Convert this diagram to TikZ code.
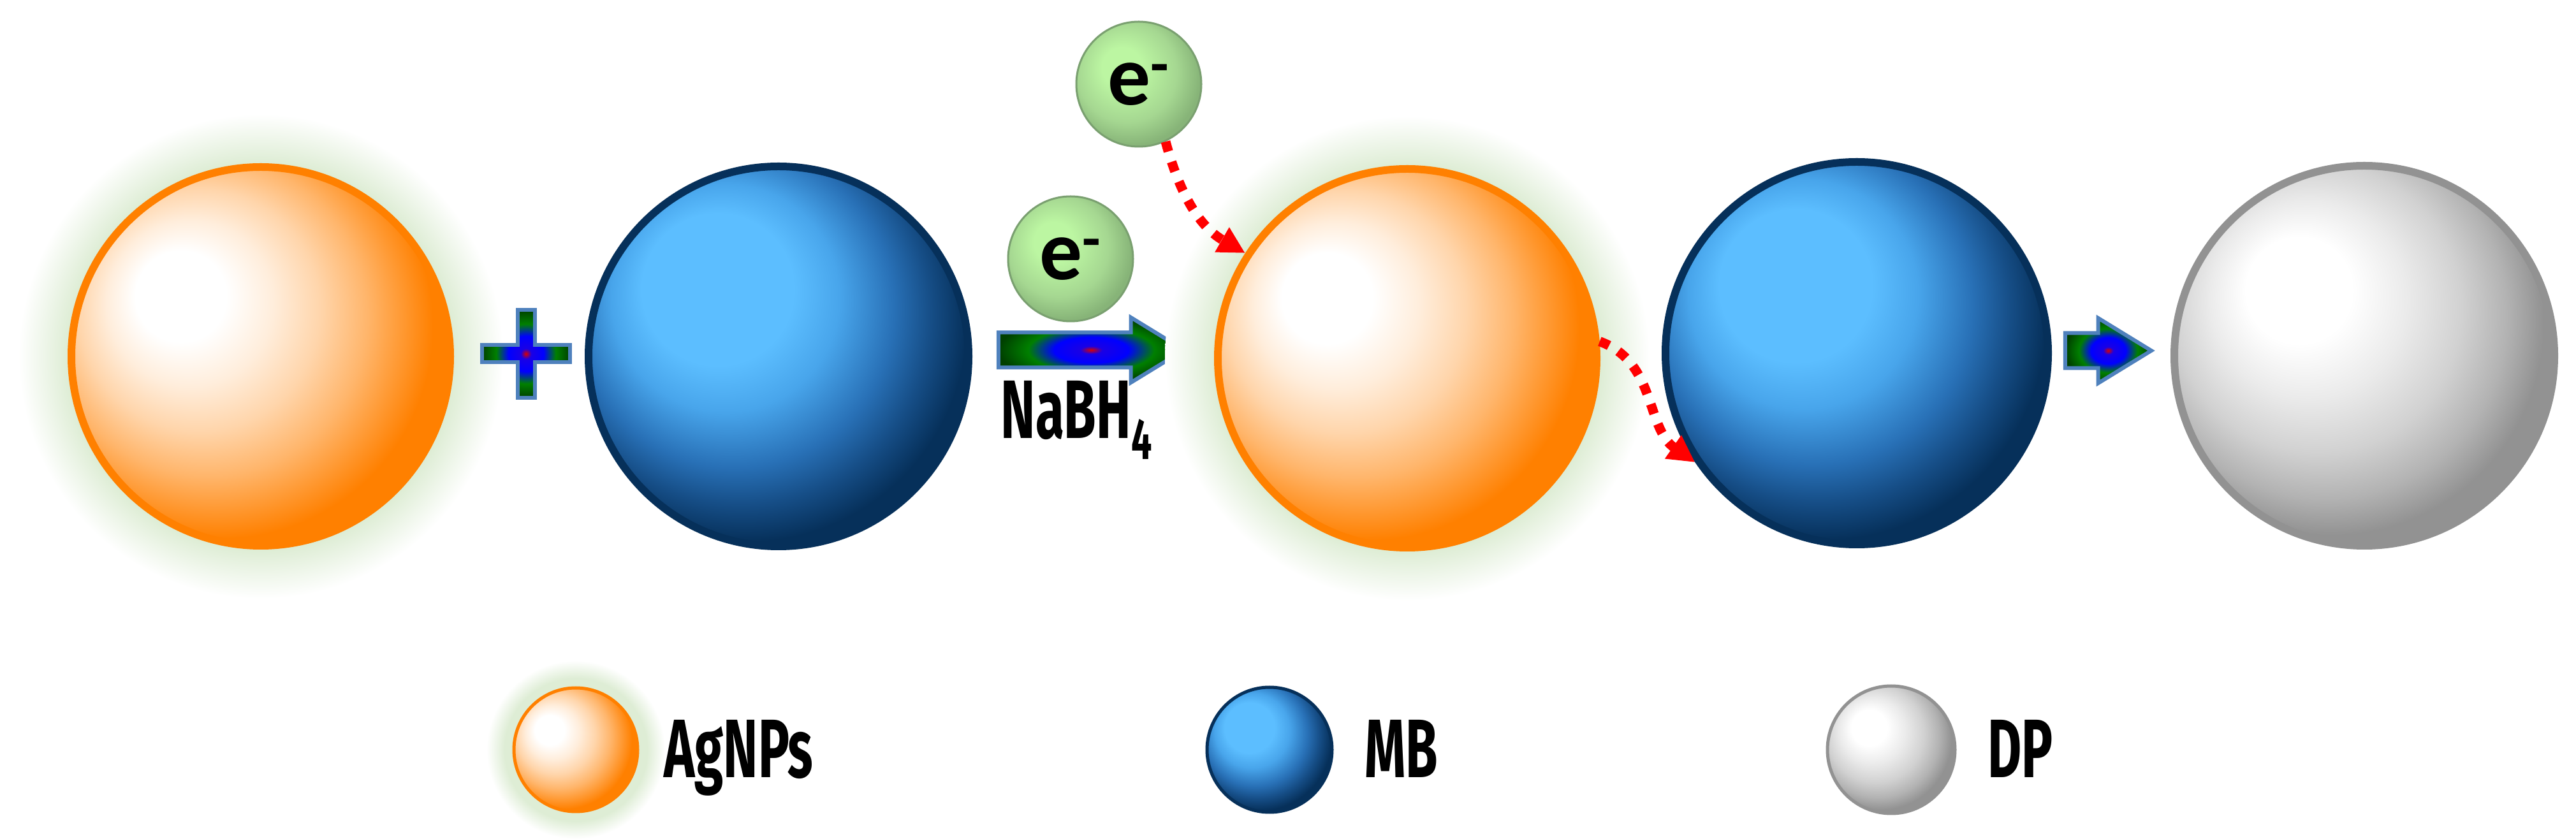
\documentclass[tikz,border=0pt]{standalone}
\usepackage{fontspec}
\usepackage{tikz}
\usetikzlibrary{arrows.meta,positioning,shapes.arrows}
\newfontfamily\labelfont[FakeStretch=0.63]{Fira Sans}
\newfontfamily\efont{Carlito}
\definecolor{agorange}{RGB}{255,128,0}
\definecolor{mblight}{RGB}{92,190,255}
\definecolor{mbdark}{RGB}{6,48,90}
\definecolor{dpgrey}{RGB}{146,146,146}
\definecolor{elight}{RGB}{188,246,162}
\definecolor{edark}{RGB}{122,160,112}
\definecolor{glowgreen}{RGB}{222,237,213}
\definecolor{arrowblue}{RGB}{79,129,189}
\definecolor{dotred}{RGB}{255,0,0}
\pgfdeclareradialshading{agshade}{\pgfpoint{-12bp}{9bp}}{%
  color(0bp)=(white); color(6bp)=(white); color(11bp)=(agorange!14);
  color(16bp)=(agorange!33); color(21bp)=(agorange!58); color(25bp)=(agorange!82);
  color(28bp)=(agorange); color(50bp)=(agorange)}
\pgfdeclareradialshading{mbshade}{\pgfpoint{-10bp}{11bp}}{%
  color(0bp)=(mblight); color(10bp)=(mblight); color(15bp)=(rgb,255:red,72;green,165;blue,235);
  color(21bp)=(rgb,255:red,40;green,112;blue,182); color(25bp)=(rgb,255:red,22;green,78;blue,135);
  color(29bp)=(mbdark); color(50bp)=(mbdark)}
\pgfdeclareradialshading{dpshade}{\pgfpoint{-10bp}{10bp}}{%
  color(0bp)=(white); color(7bp)=(white); color(13bp)=(white!92!black);
  color(19bp)=(white!82!black); color(24bp)=(white!70!black); color(28bp)=(dpgrey); color(50bp)=(dpgrey)}
\pgfdeclareradialshading{eshade}{\pgfpoint{-8bp}{8bp}}{%
  color(0bp)=(elight); color(8bp)=(elight); color(20bp)=(rgb,255:red,165;green,215;blue,145);
  color(28bp)=(rgb,255:red,135;green,180;blue,120); color(50bp)=(edark)}
\pgfdeclareradialshading{glowshade}{\pgfpoint{0bp}{0bp}}{%
  color(0bp)=(glowgreen); color(20bp)=(glowgreen); color(25bp)=(white); color(50bp)=(white)}
\pgfdeclareradialshading{rgbshade}{\pgfpoint{0bp}{0bp}}{%
  color(0bp)=(red!85!black); color(3bp)=(blue!90!red); color(10bp)=(blue);
  color(17bp)=(green!50!black); color(25bp)=(green!25!black); color(50bp)=(green!25!black)}
\tikzstyle{halo}=[
  circle,
  inner sep=0pt,
  shading=glowshade,
]
\tikzstyle{agball}=[
  circle,
  draw=agorange,
  inner sep=0pt,
  line width=.12cm,
  shading=agshade,
]
\tikzstyle{mbball}=[
  circle,
  draw=mbdark,
  inner sep=0pt,
  line width=.12cm,
  shading=mbshade,
]
\tikzstyle{dpball}=[
  circle,
  draw=dpgrey,
  inner sep=0pt,
  line width=.12cm,
  shading=dpshade,
]
\tikzstyle{eball}=[
  circle,
  draw=edark,
  font={\efont\bfseries\fontsize{38pt}{40pt}\selectfont},
  inner sep=0pt,
  line width=.03cm,
  minimum size=1.96cm,
  shading=eshade,
]
\tikzstyle{blockarrow}=[
  single arrow,
  draw=arrowblue,
  inner xsep=0pt,
  inner ysep=.245cm,
  line width=.06cm,
  shading=rgbshade,
  single arrow head extend=.235cm,
  single arrow tip angle=63,
]
\tikzstyle{plussign}=[
  draw=arrowblue,
  line width=.06cm,
  shading=rgbshade,
]
\tikzstyle{legendtext}=[
  font={\labelfont\bfseries\fontsize{37pt}{40pt}\selectfont},
  inner sep=0pt,
  text depth=0pt,
  text height=.87cm,
]
\tikzstyle{edash}=[
  draw=dotred,
  line width=.15cm,
  dash pattern=on .16cm off .17cm,
  -{Triangle[length=.42cm,width=.42cm]},
]

\begin{document}
\begin{tikzpicture}
    \useasboundingbox [fill=white] (0,0) rectangle (40.4,13.16);
    %% reactants
    \node (ag1glow) [halo, minimum size=7.6cm] at (4.09,7.57) {};
    \node (ag1) [agball, minimum size=5.94cm] at (ag1glow) {};
    \coordinate (plus) at (8.25,7.61);
    \draw [plussign] (plus) ++(-.69,.135) -- ++(.555,0) -- ++(0,.555)
                     -- ++(.27,0) -- ++(0,-.555) -- ++(.555,0) -- ++(0,-.27)
                     -- ++(-.555,0) -- ++(0,-.555) -- ++(-.27,0) -- ++(0,.555)
                     -- ++(-.555,0) -- cycle;
    \node (mb1) [mbball, minimum size=5.96cm] at (12.21,7.57) {};
    %%
    \node (step1) [blockarrow, minimum height=2.91cm] at (16.89,7.67) {};
    \node (nabh4) [legendtext, below=.2cm of step1] {NaBH\textsubscript{4}};
    \node (eLow) [eball] at (16.79,9.10) {e\textsuperscript{-}};
    \node (eTop) [eball] at (17.86,11.84) {e\textsuperscript{-}};
    %% products
    \node (ag2glow) [halo, minimum size=7.6cm] at (22.07,7.54) {};
    \node (ag2) [agball, minimum size=5.94cm] at (ag2glow) {};
    \node (mb2) [mbball, minimum size=6cm] at (29.12,7.62) {};
    \node (step2) [blockarrow, minimum height=1.35cm] at (32.84,7.66) {};
    \node (dp1) [dpball, minimum size=5.96cm] at (37.08,7.58) {};
    %%
    \draw [edash] (eTop.-65) to [out=-75, in=150] (ag2.147);
    \draw [edash] (ag2.5) to [out=-20, in=145] (mb2.214);
    %% legend
    \node (ag3glow) [halo, minimum size=2.8cm] at (9.03,1.40) {};
    \node (ag3) [agball, line width=.05cm, minimum size=1.94cm] at (ag3glow) {};
    \node (agnps) [legendtext, right=.38cm of ag3] {AgNPs};
    \node (mb3) [mbball, line width=.05cm, minimum size=1.96cm] at (19.91,1.40) {};
    \node (mbtext) [legendtext, right=.48cm of mb3] {MB};
    \node (dp2) [dpball, line width=.05cm, minimum size=2cm] at (29.66,1.40) {};
    \node (dptext) [legendtext, right=.48cm of dp2] {DP};
\end{tikzpicture}
\end{document}
